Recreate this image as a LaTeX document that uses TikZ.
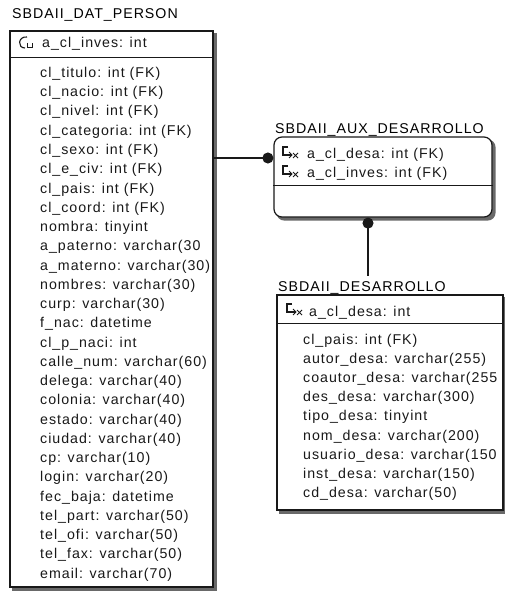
\documentclass[tikz,border=0pt]{standalone}
\usepackage{fontspec}
\usetikzlibrary{arrows.meta,positioning,calc,backgrounds}
\newfontfamily\erfont{Liberation Sans}[LetterSpace=7]
\definecolor{shadegray}{RGB}{105,105,105}
\definecolor{inkgray}{RGB}{25,25,25}

\tikzset{
  tablebox/.style={draw=inkgray,line width=1.2pt,fill=white,inner sep=0pt},
  tabtitle/.style={anchor=base west,inner sep=0pt,font=\erfont\fontsize{14.2}{17}\selectfont},
  field/.style={anchor=base west,inner sep=0pt,text=inkgray,font=\erfont\fontsize{14.2}{17}\selectfont},
  sepline/.style={draw=inkgray,line width=1pt},
  relline/.style={draw=inkgray,line width=1.1pt},
  pkkey/.pic={
    \draw[inkgray,line width=1.1pt] (10,1) .. controls (1,0) and (0,12) .. (8,12);
    \draw[inkgray,line width=0.9pt] (10,7) -- (10,11) -- (15,11) -- (15,7);
  },
  fkkey/.pic={
    \draw[inkgray,line width=1.1pt] (8,1) -- (3,1) -- (3,9) -- (12,9);
    \draw[inkgray,line width=0.9pt] (9,6) -- (12,9) -- (9,12);
    \draw[inkgray,line width=0.9pt] (13,7) -- (18,12) (13,12) -- (18,7);
  }
}

\begin{document}
\begin{tikzpicture}[x=1pt,y=-1pt]
\useasboundingbox (0,0) rectangle (505,591);

% tables
\node[tablebox,minimum width=203pt,minimum height=556pt] (person) at (111.5,309) {};
\node[tablebox,rounded corners=8pt,minimum width=218pt,minimum height=80pt] (auxdes) at (383,177) {};
\node[tablebox,minimum width=226pt,minimum height=215pt] (desarrollo) at (390,402.5) {};

\begin{scope}[on background layer]
\fill[shadegray] ($(person.north west)+(3,3)$) rectangle ($(person.south east)+(3,3)$);
\fill[shadegray,rounded corners=8pt] ($(auxdes.north west)+(3,3)$) rectangle ($(auxdes.south east)+(3,3)$);
\fill[shadegray] ($(desarrollo.north west)+(3,3)$) rectangle ($(desarrollo.south east)+(3,3)$);
\end{scope}

% titles
\node[tabtitle] (persontitle) at (12,19) {SBDAII\_DAT\_PERSON};
\node[tabtitle] (auxtitle) at (275,133) {SBDAII\_AUX\_DESARROLLO};
\node[tabtitle] (destitle) at (278,291) {SBDAII\_DESARROLLO};

% key separators
\draw[sepline] (person.west |- 0,58) -- (person.east |- 0,58);
\draw[sepline] (auxdes.west |- 0,185) -- (auxdes.east |- 0,185);
\draw[sepline] (desarrollo.west |- 0,323) -- (desarrollo.east |- 0,323);

% SBDAII_DAT_PERSON
\pic at (17,36) {pkkey};
\node[field] (pkey) at (42,48) {a\_cl\_inves: int};
\foreach \txt [count=\i from 0] in {cl\_titulo: int (FK), cl\_nacio: int (FK), cl\_nivel: int (FK),
  cl\_categoria: int (FK), cl\_sexo: int (FK), cl\_e\_civ: int (FK), cl\_pais: int (FK),
  cl\_coord: int (FK), nombra: tinyint, a\_paterno: varchar(30, a\_materno: varchar(30),
  nombres: varchar(30), curp: varchar(30), f\_nac: datetime, cl\_p\_naci: int,
  calle\_num: varchar(60), delega: varchar(40), colonia: varchar(40), estado: varchar(40),
  ciudad: varchar(40), cp: varchar(10), login: varchar(20), fec\_baja: datetime,
  tel\_part: varchar(50), tel\_ofi: varchar(50), tel\_fax: varchar(50), email: varchar(70)}
  \node[field] (prow\i) at (40,77.5+19.25*\i) {\txt};

% SBDAII_AUX_DESARROLLO
\pic at (280,146) {fkkey};
\node[field] (arow0) at (307,158) {a\_cl\_desa: int (FK)};
\pic at (280,165) {fkkey};
\node[field] (arow1) at (307,177) {a\_cl\_inves: int (FK)};

% SBDAII_DESARROLLO
\pic at (284,303) {fkkey};
\node[field] (dkey) at (309,316) {a\_cl\_desa: int};
\foreach \txt [count=\i from 0] in {cl\_pais: int (FK), autor\_desa: varchar(255),
  coautor\_desa: varchar(255, des\_desa: varchar(300), tipo\_desa: tinyint,
  nom\_desa: varchar(200), usuario\_desa: varchar(150, inst\_desa: varchar(150),
  cd\_desa: varchar(50)}
  \node[field] (drow\i) at (303,344+19.2*\i) {\txt};

% relations
\coordinate (linkA) at (0,158);
\draw[relline,-{Circle[length=11pt]}] (person.east |- linkA) -- (auxdes.west |- linkA);
\coordinate (linkB) at (368,0);
\draw[relline,{Circle[length=11pt]}-] (auxdes.south -| linkB) -- ($(destitle.north -| linkB)+(0,-5)$);
\end{tikzpicture}
\end{document}
